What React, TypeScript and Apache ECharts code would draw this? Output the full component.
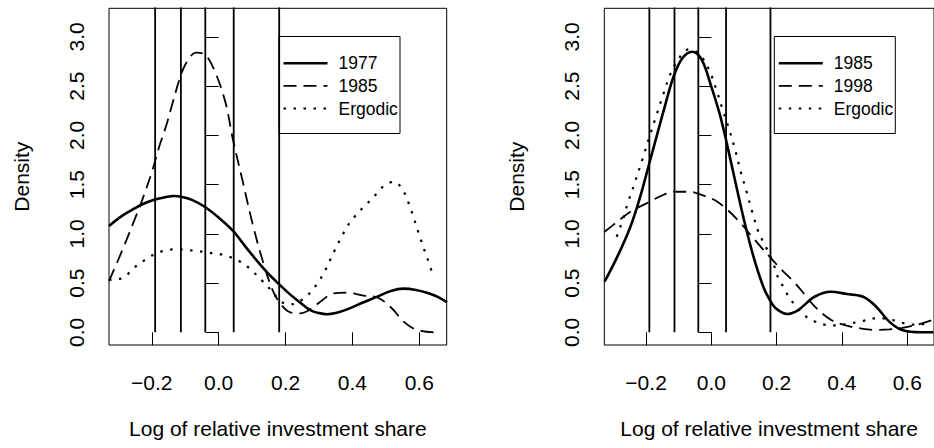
import React, { useEffect, useRef } from "react";
import * as echarts from "echarts";

// Axis ticks and class boundaries
const xTicks = [-0.2, 0, 0.2, 0.4, 0.6];
const yTicks = [0, 0.5, 1, 1.5, 2, 2.5, 3];
const cutPoints = [-0.19, -0.113, -0.04, 0.045, 0.181];

// Left panel: 1977, 1985 and ergodic densities
const leftLabels = ["1977", "1985", "Ergodic"];
const density1977: [number, number][] = [
  [-0.328, 1.08], [-0.29, 1.18], [-0.25, 1.26], [-0.228, 1.3], [-0.193, 1.345],
  [-0.16, 1.372], [-0.133, 1.384], [-0.115, 1.378], [-0.08, 1.345], [-0.042, 1.275],
  [0.0, 1.165], [0.043, 1.03], [0.08, 0.87], [0.121, 0.7], [0.15, 0.59],
  [0.18, 0.49], [0.21, 0.395], [0.234, 0.328], [0.274, 0.226], [0.3, 0.195],
  [0.324, 0.183], [0.35, 0.195], [0.384, 0.233], [0.43, 0.3], [0.474, 0.362],
  [0.515, 0.42], [0.553, 0.443], [0.59, 0.43], [0.623, 0.402], [0.655, 0.36],
  [0.683, 0.305],
];
const density1985L: [number, number][] = [
  [-0.328, 0.52], [-0.288, 0.835], [-0.248, 1.174], [-0.228, 1.35], [-0.198, 1.648],
  [-0.178, 1.884], [-0.158, 2.087], [-0.138, 2.325], [-0.118, 2.56], [-0.098, 2.73],
  [-0.068, 2.84], [-0.039, 2.815], [-0.009, 2.63], [0.021, 2.325], [0.043, 1.952],
  [0.071, 1.546], [0.101, 1.107], [0.131, 0.734], [0.161, 0.43], [0.184, 0.294],
  [0.214, 0.203], [0.244, 0.193], [0.274, 0.233], [0.304, 0.31], [0.344, 0.396],
  [0.384, 0.402], [0.434, 0.372], [0.474, 0.355], [0.518, 0.244], [0.553, 0.108],
  [0.593, 0.023], [0.643, 0.0],
];
const ergodicL: [number, number][] = [
  [-0.328, 0.53], [-0.31, 0.54], [-0.293, 0.545], [-0.243, 0.683], [-0.213, 0.75],
  [-0.188, 0.8], [-0.153, 0.835], [-0.123, 0.842], [-0.094, 0.835], [-0.064, 0.825],
  [-0.029, 0.808], [0.001, 0.795], [0.031, 0.768], [0.061, 0.724], [0.086, 0.666],
  [0.111, 0.589], [0.131, 0.52], [0.156, 0.43], [0.178, 0.34], [0.2, 0.29],
  [0.225, 0.285], [0.245, 0.32], [0.262, 0.362], [0.282, 0.437], [0.301, 0.524],
  [0.317, 0.619], [0.331, 0.717], [0.345, 0.818], [0.359, 0.914], [0.374, 1.011],
  [0.39, 1.103], [0.41, 1.188], [0.432, 1.269], [0.454, 1.34], [0.476, 1.421],
  [0.498, 1.498], [0.526, 1.529], [0.549, 1.455], [0.563, 1.356], [0.574, 1.255],
  [0.584, 1.157], [0.594, 1.049], [0.604, 0.947], [0.614, 0.846], [0.625, 0.744],
  [0.637, 0.62],
];

// Right panel: 1985, 1998 and ergodic densities
const rightLabels = ["1985", "1998", "Ergodic"];
const density1985R: [number, number][] = [
  [-0.327, 0.514], [-0.288, 0.768], [-0.248, 1.072], [-0.218, 1.377], [-0.193, 1.681],
  [-0.168, 1.986], [-0.143, 2.29], [-0.116, 2.595], [-0.089, 2.782], [-0.059, 2.849],
  [-0.029, 2.764], [0.0, 2.493], [0.025, 2.223], [0.045, 1.952], [0.07, 1.58],
  [0.1, 1.14], [0.129, 0.768], [0.159, 0.463], [0.179, 0.328], [0.197, 0.244],
  [0.232, 0.186], [0.266, 0.226], [0.316, 0.361], [0.366, 0.412], [0.415, 0.389],
  [0.465, 0.361], [0.505, 0.26], [0.545, 0.108], [0.584, 0.023], [0.644, 0.0],
  [0.68, 0.0],
];
const density1998: [number, number][] = [
  [-0.327, 1.021], [-0.288, 1.123], [-0.248, 1.224], [-0.198, 1.31], [-0.148, 1.394],
  [-0.109, 1.427], [-0.064, 1.427], [-0.029, 1.394], [0.01, 1.343], [0.05, 1.242],
  [0.09, 1.107], [0.129, 0.954], [0.178, 0.768], [0.217, 0.63], [0.257, 0.497],
  [0.287, 0.38], [0.317, 0.26], [0.367, 0.125], [0.415, 0.067], [0.456, 0.04],
  [0.5, 0.025], [0.545, 0.03], [0.585, 0.045], [0.615, 0.065], [0.65, 0.095],
  [0.68, 0.13],
];
const ergodicR: [number, number][] = [
  [-0.29, 0.97], [-0.268, 1.174], [-0.258, 1.292], [-0.238, 1.485], [-0.208, 1.79],
  [-0.188, 2.003], [-0.168, 2.206], [-0.148, 2.409], [-0.126, 2.619], [-0.096, 2.798],
  [-0.069, 2.873], [-0.039, 2.832], [-0.009, 2.68], [0.015, 2.467], [0.035, 2.257],
  [0.055, 2.054], [0.073, 1.851], [0.09, 1.63], [0.108, 1.427], [0.125, 1.224],
  [0.144, 1.021], [0.16, 0.91], [0.177, 0.8], [0.192, 0.68], [0.205, 0.55],
  [0.223, 0.45], [0.237, 0.36], [0.263, 0.25], [0.29, 0.16], [0.317, 0.11],
  [0.35, 0.075], [0.38, 0.07], [0.425, 0.09], [0.465, 0.115], [0.495, 0.14],
  [0.525, 0.142], [0.554, 0.125], [0.584, 0.097], [0.614, 0.078], [0.64, 0.08],
  [0.66, 0.09],
];

const FONT = "'Liberation Sans', Arial, Helvetica, sans-serif";
const X_MIN = -0.328;
const X_MAX = 0.682;
const Y_MIN = -0.129;
const Y_MAX = 3.29;

const fmt = (v: number) => {
  const s = Math.abs(v).toFixed(1);
  return v < -1e-9 ? "\u2212" + s : s;
};

const SOLID = { type: "solid" as const, width: 2.6 };
const DASHED = { type: [13, 7] as any, width: 1.8 };
const DOTTED = { type: [2.5, 7.5] as any, width: 2.2 };

function xAxisFor(gridIndex: number) {
  return {
    type: "value",
    gridIndex,
    min: X_MIN,
    max: X_MAX,
    name: "Log of relative investment share",
    nameLocation: "middle",
    nameGap: 73,
    nameTextStyle: { fontFamily: FONT, fontSize: 21, color: "#000" },
    axisLine: { show: false },
    splitLine: { show: false },
    axisTick: { show: true, length: 13, customValues: xTicks, lineStyle: { color: "#000", width: 1 } },
    axisLabel: {
      customValues: xTicks,
      margin: 27,
      formatter: (v: number) => fmt(v),
      fontFamily: FONT,
      fontSize: 21,
      color: "#000",
    },
  };
}

function yAxisFor(gridIndex: number) {
  return {
    type: "value",
    gridIndex,
    min: Y_MIN,
    max: Y_MAX,
    name: "Density",
    nameLocation: "middle",
    nameGap: 77,
    nameRotate: 90,
    nameTextStyle: { fontFamily: FONT, fontSize: 21, color: "#000" },
    axisLine: { show: false },
    splitLine: { show: false },
    axisTick: { show: true, length: 13, customValues: yTicks, lineStyle: { color: "#000", width: 1 } },
    axisLabel: {
      customValues: yTicks,
      rotate: 90,
      margin: 22,
      formatter: (v: number) => fmt(v),
      fontFamily: FONT,
      fontSize: 21,
      color: "#000",
    },
  };
}

function curve(data: [number, number][], lineStyle: any, idx: number, name: string) {
  return {
    type: "line",
    name,
    xAxisIndex: idx,
    yAxisIndex: idx,
    data,
    smooth: 0.35,
    showSymbol: false,
    symbol: "none",
    clip: true,
    silent: true,
    lineStyle: { color: "#000", cap: "butt", ...lineStyle },
  };
}

function cutLines(idx: number) {
  return cutPoints.map((c) => ({
    type: "line",
    xAxisIndex: idx,
    yAxisIndex: idx,
    data: [
      [c, 0],
      [c, Y_MAX + 1],
    ],
    showSymbol: false,
    symbol: "none",
    clip: true,
    silent: true,
    lineStyle: { color: "#000", width: 1.8 },
  }));
}

function legendBox(left: number, labels: string[]) {
  const rowsY = [63.3, 85.8, 108.5];
  const styles = [SOLID, DASHED, DOTTED];
  const children: any[] = [
    {
      type: "rect",
      shape: { x: left + 0.5, y: 36.5, width: 121, height: 97 },
      style: { fill: "#fff", stroke: "#000", lineWidth: 1 },
    },
  ];
  labels.forEach((lab, i) => {
    const st = styles[i];
    children.push({
      type: "line",
      shape: { x1: left + 5, y1: rowsY[i], x2: left + 49, y2: rowsY[i] },
      style: {
        stroke: "#000",
        lineWidth: st.width,
        lineDash: Array.isArray(st.type) ? st.type : null,
        lineCap: "butt",
      },
    });
    children.push({
      type: "text",
      style: {
        x: left + 60,
        y: rowsY[i],
        text: lab,
        fontFamily: FONT,
        fontSize: 17.5,
        fill: "#000",
        verticalAlign: "middle",
        align: "left",
      },
    });
  });
  return { type: "group", children };
}

export default function App() {
  const ref = useRef<HTMLDivElement>(null);

  useEffect(() => {
    if (!ref.current) return;
    const chart = echarts.init(ref.current, null, { renderer: "svg" });
    chart.setOption({
      animation: false,
      backgroundColor: "#fff",
      grid: [
        { left: 109, top: 8.3, width: 337.7, height: 336.7, show: true, borderColor: "#000", borderWidth: 1, backgroundColor: "transparent" },
        { left: 604.3, top: 8.3, width: 337.7, height: 336.7, show: true, borderColor: "#000", borderWidth: 1, backgroundColor: "transparent" },
      ],
      xAxis: [xAxisFor(0), xAxisFor(1)],
      yAxis: [yAxisFor(0), yAxisFor(1)],
      series: [
        ...cutLines(0),
        ...cutLines(1),
        curve(density1977, SOLID, 0, leftLabels[0]),
        curve(density1985L, DASHED, 0, leftLabels[1]),
        curve(ergodicL, DOTTED, 0, leftLabels[2]),
        curve(density1985R, SOLID, 1, rightLabels[0]),
        curve(density1998, DASHED, 1, rightLabels[1]),
        curve(ergodicR, DOTTED, 1, rightLabels[2]),
      ],
      graphic: [legendBox(278.5, leftLabels), legendBox(773.8, rightLabels)],
    });
    return () => chart.dispose();
  }, []);

  return (
    <div
      ref={ref}
      style={{ position: "fixed", left: 0, top: 0, width: 934, height: 448, background: "#fff" }}
    />
  );
}
